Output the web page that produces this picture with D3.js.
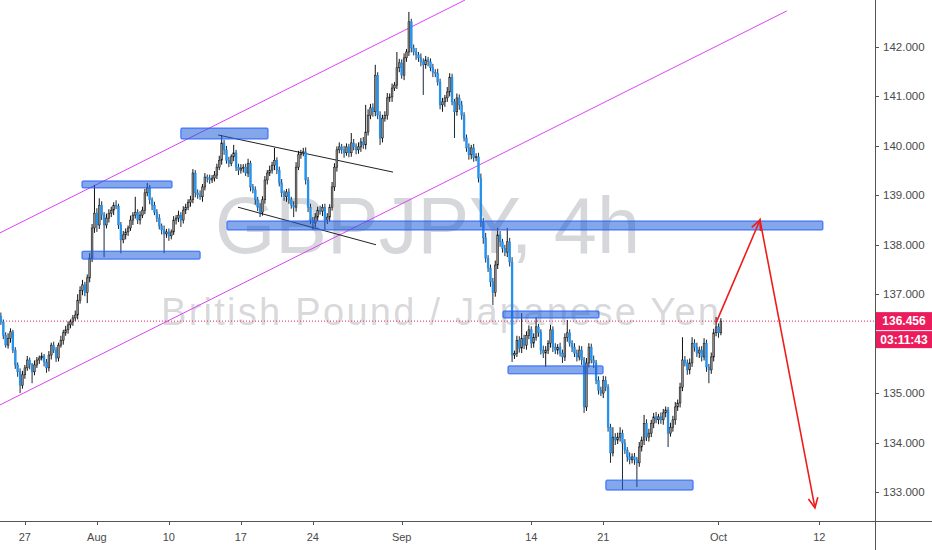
<!DOCTYPE html>
<html><head><meta charset="utf-8">
<script src="https://cdn.jsdelivr.net/npm/d3@7/dist/d3.min.js"></script>
<style>html,body{margin:0;padding:0;background:#fff;}svg{display:block;}</style>
</head><body>
<svg id="chart" width="932" height="550"></svg>
<script>
// ---------- DATA ----------
const firstOpen = 136.55;
const closes = [
136.44,136.17,135.97,136.11,136.24,135.87,135.57,135.43,135.16,135.37,
135.51,135.67,135.57,135.43,135.57,135.67,135.71,135.75,135.63,135.51,
135.77,135.97,135.87,135.71,135.97,136.07,136.22,136.28,136.38,136.44,
136.52,136.58,136.88,137.08,137.19,137.04,137.33,137.73,138.34,138.64,
138.40,138.80,138.60,138.40,138.54,138.64,138.70,138.80,138.78,138.40,
138.10,138.20,138.26,138.34,138.50,138.60,138.66,138.50,138.60,138.70,
139.05,139.15,138.91,138.80,138.66,138.54,138.38,138.30,138.22,138.26,
138.18,138.26,138.50,138.54,138.60,138.50,138.70,138.76,138.86,138.91,
139.45,139.05,139.01,138.97,139.17,139.37,139.35,139.31,139.35,139.41,
139.57,139.71,140.06,139.92,139.71,139.65,139.78,139.86,139.57,139.51,
139.55,139.57,139.45,139.65,139.17,139.11,138.91,138.76,138.66,138.91,
139.31,139.45,139.51,139.61,139.71,139.51,139.25,139.05,138.97,139.07,
138.91,138.80,138.76,139.57,139.82,139.86,139.88,139.31,138.76,138.50,
138.44,138.56,138.70,138.68,138.76,138.50,138.56,138.76,139.17,139.57,
139.92,139.98,139.92,139.86,139.98,139.86,140.06,139.98,139.92,139.98,
140.08,140.02,140.28,140.62,140.77,140.69,141.43,140.62,140.16,140.56,
140.62,140.97,140.99,141.17,141.23,141.58,141.68,141.43,141.78,141.90,
142.51,141.98,141.90,141.84,141.78,141.70,141.64,141.74,141.70,141.58,
141.49,141.47,141.29,140.83,140.89,140.97,141.09,141.39,140.89,140.69,
140.97,140.83,140.62,140.16,139.96,139.82,139.96,139.76,139.78,139.35,
138.46,138.14,137.73,137.53,137.25,137.04,137.59,138.20,138.06,137.93,
137.85,138.06,137.65,135.77,135.80,136.07,135.91,136.11,135.97,136.17,
136.28,136.01,136.13,136.34,136.22,135.87,135.81,135.87,136.01,136.28,
135.93,135.87,135.93,135.81,135.73,136.13,136.22,136.01,135.93,135.81,
135.73,135.87,135.67,134.72,135.61,135.93,135.67,135.61,135.26,135.06,
135.00,135.26,135.12,134.31,133.79,134.11,134.05,134.11,134.19,133.99,
133.85,133.71,133.65,133.71,133.65,133.59,133.91,134.05,134.39,134.11,
134.19,134.39,134.52,134.46,134.52,134.46,134.60,134.66,134.19,134.31,
134.46,134.72,134.80,135.12,135.67,135.61,135.47,135.61,136.01,135.93,
135.81,135.87,135.73,136.01,135.53,135.47,135.73,136.22,136.34,136.22,
136.456
];
// wick extensions above / below the body, in hundredths of a yen
const upWick = [
8,5,6,10,7,4,6,5,7,8, 6,8,5,4,9,6,5,7,4,6, 8,5,7,6,5,9,6,8,7,5, 6,9,12,8,10,6,7,10,8,57,
10,14,8,6,9,8,7,6,10,5, 6,8,7,5,9,6,31,6,8,7, 8,10,6,5,7,6,8,5,9,6, 7,5,8,6,9,6,8,7,6,8,
8,6,7,9,6,8,5,7,6,8, 7,9,16,6,8,7,5,16,6,7, 8,6,7,9,5,6,7,6,8,7, 8,6,9,7,25,6,7,8,5,6,
7,6,8,10,8,6,8,9,6,7, 6,8,7,9,6,7,8,6,10,8, 7,9,6,8,7,6,20,8,7,9, 8,10,55,12,8,9,21,6,8,7,
8,10,7,9,6,32,8,7,9,6, 20,6,7,8,6,9,7,8,6,7, 8,6,9,7,8,6,10,8,7,6, 9,7,8,6,7,9,6,8,7,8,
9,8,10,6,7,8,9,14,8,6, 7,28,8,10,6,9,8,51,7,8, 9,7,8,20,6,7,9,8,6,10, 7,8,6,9,7,8,26,7,6,8,
7,9,8,6,10,8,7,9,6,8, 7,9,8,6,7,20,8,9,12,7, 8,6,9,7,8,6,10,7,17,8, 9,7,8,10,6,9,8,7,6,9,
8,10,7,9,46,8,7,9,12,8, 9,7,8,10,7,6,9,8,20,7, 6
];
const downWick = [
6,8,5,7,9,6,8,10,16,7, 8,6,9,23,7,6,8,5,9,10, 7,9,6,8,7,5,9,6,8,7, 8,6,9,7,10,8,22,9,8,10,
14,8,10,65,7,9,8,10,6,8, 27,7,9,8,6,10,7,8,9,6, 8,7,9,10,6,8,7,9,39,8, 10,7,6,9,8,14,7,8,6,9,
7,9,8,6,10,7,9,8,6,7, 8,6,9,10,7,8,6,9,8,10, 7,9,6,8,9,7,10,8,10,7, 8,9,6,7,10,8,7,9,8,10,
8,7,20,9,6,8,7,9,10,8, 14,9,8,7,10,20,8,9,7,8, 9,7,8,10,6,9,8,7,9,8, 10,8,9,7,8,10,9,8,14,9,
7,9,8,10,6,8,9,7,10,8, 8,9,7,10,8,9,61,8,9,7, 10,8,7,9,14,10,8,9,7,53, 8,10,9,7,8,10,9,8,7,9,
10,12,9,8,10,26,9,8,10,9, 8,10,9,14,8,7,9,10,8,9, 8,10,9,7,8,9,10,28,8,9, 10,8,9,7,12,8,9,7,10,8,
9,7,10,12,8,9,7,10,8,9, 6,10,8,9,20,7,10,8,9,95, 8,10,9,7,10,49,8,9,10,8, 9,8,10,7,9,8,10,9,28,7,
9,10,8,9,8,7,10,9,8,9, 8,10,9,7,10,27,8,9,7,10, 5
];
const priceTicks = [142,141,140,139,138,137,136,135,134,133];
const timeTickLabels = ["27","Aug","10","17","24","Sep","14","21","Oct","12"];
const timeTickBars = [10,40,70,100,130,167,221,251,299,341];
const lastPrice = 136.456;
const countdown = "03:11:43";
const symbolText = "GBPJPY, 4h";
const descText = "British Pound / Japanese Yen";
// zones: [startBar, endBar, topPrice, bottomPrice]
const zones = [
 [33.8,71.3,139.29,139.15],
 [33.8,83.0,137.87,137.71],
 [75.0,111.3,140.36,140.14],
 [94.2,342.5,138.48,138.30],
 [209.2,249.2,136.66,136.52],
 [211.3,250.9,135.55,135.39],
 [252.1,288.4,133.24,133.04]
];
// channel lines: [bar0, price0, bar1, price1]
const channelLines = [
 [-0.4,138.24,193.4,142.95],
 [-0.4,134.76,327.5,142.73]
];
const wedgeLines = [
 [90.5,140.22,163.4,139.47],
 [98.8,138.76,156.3,138.00]
];
// projected path: [bar, price]
const projection = [[298,136.42],[316.3,138.50],[339.2,132.68]];

// ---------- CHART ----------
const W = 932, H = 550, plotR = 875, plotB = 521;
const svg = d3.select("#chart");
const x = d3.scaleLinear().domain([0,340]).range([0.88,816.88]);
const y = d3.scaleLinear().domain([133,142]).range([492,47]);

svg.append("rect").attr("width",W).attr("height",H).attr("fill","#ffffff");
svg.append("defs").append("clipPath").attr("id","plot")
  .append("rect").attr("x",0).attr("y",0).attr("width",plotR).attr("height",plotB);

const plot = svg.append("g").attr("clip-path","url(#plot)");

// watermark
plot.append("text").attr("x",215).attr("y",253)
  .attr("font-family","'Liberation Sans', Arial, sans-serif").attr("font-size",80)
  .attr("textLength",425).attr("lengthAdjust","spacingAndGlyphs")
  .attr("fill","rgba(120,123,134,0.3)").text(symbolText);
plot.append("text").attr("x",161).attr("y",325)
  .attr("font-family","'Liberation Sans', Arial, sans-serif").attr("font-size",38)
  .attr("textLength",558).attr("lengthAdjust","spacing")
  .attr("fill","rgba(120,123,134,0.3)").text(descText);

// channel lines
plot.selectAll("line.ch").data(channelLines).enter().append("line")
  .attr("x1",d=>x(d[0])).attr("y1",d=>y(d[1])).attr("x2",d=>x(d[2])).attr("y2",d=>y(d[3]))
  .attr("stroke","#e040fb").attr("stroke-width",1);
// wedge lines
plot.selectAll("line.wd").data(wedgeLines).enter().append("line")
  .attr("x1",d=>x(d[0])).attr("y1",d=>y(d[1])).attr("x2",d=>x(d[2])).attr("y2",d=>y(d[3]))
  .attr("stroke","#222").attr("stroke-width",1);

// price line
plot.append("line").attr("x1",0).attr("x2",plotR).attr("y1",y(lastPrice)).attr("y2",y(lastPrice))
  .attr("stroke","#e91e63").attr("stroke-width",1).attr("stroke-dasharray","1,2");

// candles
const candles = closes.map((c,i)=>{
  const o = i===0 ? firstOpen : closes[i-1];
  return {i, o, c, h: Math.max(o,c)+upWick[i]/100, l: Math.min(o,c)-downWick[i]/100};
});
const cg = plot.append("g");
cg.selectAll("line.wick").data(candles).enter().append("line")
  .attr("x1",d=>x(d.i)).attr("x2",d=>x(d.i)).attr("y1",d=>y(d.h)).attr("y2",d=>y(d.l))
  .attr("stroke",d=>d.c>=d.o?"#111":"#1c2a3a").attr("stroke-width",1);
cg.selectAll("rect.body").data(candles).enter().append("rect")
  .attr("x",d=>x(d.i)-0.9).attr("width",1.8)
  .attr("y",d=>y(Math.max(d.o,d.c)))
  .attr("height",d=>Math.max(1,Math.abs(y(d.o)-y(d.c))))
  .attr("fill",d=>d.c>=d.o?"#8a8a8a":"#2196f3")
  .attr("stroke",d=>d.c>=d.o?"#111":"#1e88e5").attr("stroke-width",0.5);

// zones
plot.selectAll("rect.zone").data(zones).enter().append("rect")
  .attr("x",d=>x(d[0])).attr("width",d=>x(d[1])-x(d[0]))
  .attr("y",d=>y(d[2])).attr("height",d=>y(d[3])-y(d[2]))
  .attr("fill","rgba(30,95,214,0.55)").attr("stroke","#2962ff").attr("stroke-width",1)
  .attr("rx",1);

// projection arrows
const pts = projection.map(p=>[x(p[0]),y(p[1])]);
plot.append("path").attr("d",d3.line()(pts)).attr("fill","none")
  .attr("stroke","#f01c1c").attr("stroke-width",1.6);
function head(a,b){
  const ang = Math.atan2(b[1]-a[1], b[0]-a[0]), L = 11, s = 0.45;
  const p1 = [b[0]-L*Math.cos(ang-s), b[1]-L*Math.sin(ang-s)];
  const p2 = [b[0]-L*Math.cos(ang+s), b[1]-L*Math.sin(ang+s)];
  plot.append("path").attr("d",d3.line()([p1,b,p2])).attr("fill","none")
    .attr("stroke","#f01c1c").attr("stroke-width",1.6);
}
head(pts[0],pts[1]);
head(pts[1],pts[2]);

// axes
const axisCol = "#555";
svg.append("line").attr("x1",plotR+0.5).attr("x2",plotR+0.5).attr("y1",0).attr("y2",H)
  .attr("stroke",axisCol).attr("stroke-width",1);
svg.append("line").attr("x1",0).attr("x2",W).attr("y1",plotB+0.5).attr("y2",plotB+0.5)
  .attr("stroke",axisCol).attr("stroke-width",1);

const font = "'Liberation Sans', Arial, sans-serif";
const yt = svg.append("g");
priceTicks.forEach(p=>{
  yt.append("line").attr("x1",plotR).attr("x2",plotR+4).attr("y1",Math.round(y(p))+0.5).attr("y2",Math.round(y(p))+0.5)
    .attr("stroke",axisCol);
  yt.append("text").attr("x",plotR+8).attr("y",y(p)).attr("dy","0.35em")
    .attr("font-family",font).attr("font-size",11.5).attr("fill","#4a4a4a").text(p.toFixed(3));
});
const xt = svg.append("g");
timeTickBars.forEach((b,k)=>{
  xt.append("line").attr("x1",Math.round(x(b))+0.5).attr("x2",Math.round(x(b))+0.5)
    .attr("y1",plotB).attr("y2",plotB+4).attr("stroke",axisCol);
  xt.append("text").attr("x",x(b)).attr("y",541).attr("text-anchor","middle")
    .attr("font-family",font).attr("font-size",11).attr("fill","#4a4a4a").text(timeTickLabels[k]);
});

// last price label + countdown
const ly = y(lastPrice);
svg.append("rect").attr("x",plotR+1).attr("y",ly-9).attr("width",W-plotR-1).attr("height",18).attr("fill","#ec1c5c");
svg.append("text").attr("x",904).attr("y",ly).attr("dy","0.36em").attr("text-anchor","middle")
  .attr("font-family",font).attr("font-size",12).attr("font-weight","bold").attr("fill","#fff").text(lastPrice.toFixed(3));
svg.append("rect").attr("x",plotR+1).attr("y",ly+10).attr("width",W-plotR-1).attr("height",17).attr("fill","#ec1c5c");
svg.append("text").attr("x",904).attr("y",ly+18.5).attr("dy","0.36em").attr("text-anchor","middle")
  .attr("font-family",font).attr("font-size",12).attr("font-weight","bold").attr("fill","#fff").text(countdown);
</script>
</body></html>
